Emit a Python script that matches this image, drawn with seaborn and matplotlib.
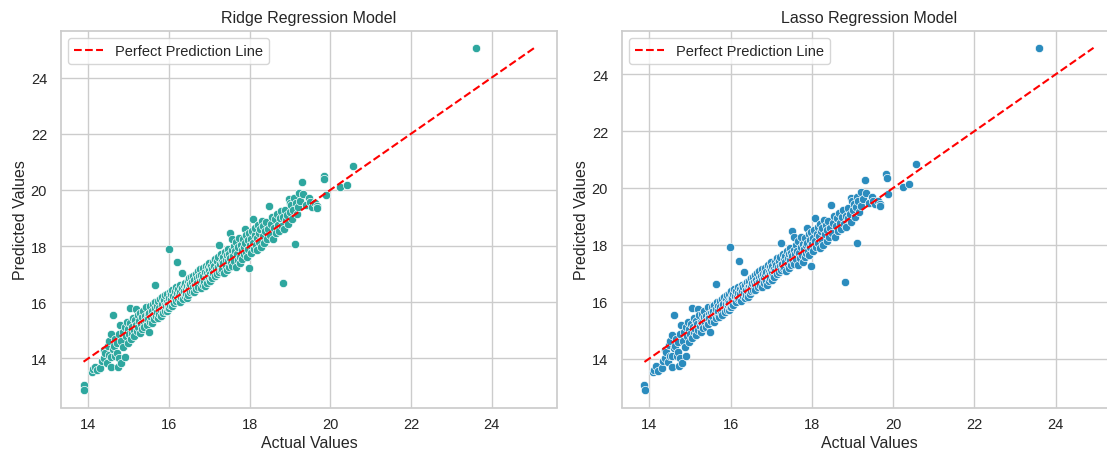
import numpy as np
import pandas as pd
import matplotlib
matplotlib.use("Agg")
import matplotlib.pyplot as plt
import seaborn as sns

# Observed target values of the test set
actual = [
    13.88, 13.90, 14.08, 14.12, 14.17, 14.22, 14.30, 14.33, 14.38, 14.38, 14.42, 14.45, 14.48, 14.50,
    14.52, 14.55, 14.55, 14.57, 14.60, 14.60, 14.63, 14.65, 14.67, 14.70, 14.71, 14.73, 14.75, 14.76,
    14.79, 14.80, 14.82, 14.85, 14.87, 14.90, 14.90, 14.93, 14.95, 14.97, 14.98, 15.00,
    15.02, 15.04, 15.05, 15.07, 15.09, 15.10, 15.12, 15.14, 15.15, 15.17, 15.19, 15.20, 15.22, 15.24,
    15.26, 15.27, 15.29, 15.30, 15.32, 15.34, 15.35, 15.37, 15.39, 15.40, 15.42, 15.44, 15.45, 15.47,
    15.48, 15.50,
    15.51, 15.52, 15.54, 15.55, 15.57, 15.58, 15.60, 15.61, 15.63, 15.64, 15.65, 15.66, 15.68, 15.69,
    15.70, 15.72, 15.73, 15.75, 15.76, 15.78, 15.79, 15.80, 15.82, 15.83, 15.85, 15.86, 15.88, 15.89,
    15.90, 15.91, 15.93, 15.94, 15.95, 15.96, 15.97, 15.98, 15.99, 16.00, 16.00, 16.02,
    16.03, 16.04, 16.06, 16.07, 16.08, 16.10, 16.11, 16.13, 16.14, 16.15, 16.17, 16.18, 16.19, 16.20,
    16.21, 16.23, 16.24, 16.26, 16.27, 16.28, 16.30, 16.31, 16.33, 16.33, 16.35, 16.36, 16.38, 16.39,
    16.40, 16.42, 16.43, 16.44, 16.45, 16.46, 16.47, 16.48, 16.49, 16.50, 16.50, 16.51,
    16.53, 16.54, 16.56, 16.57, 16.59, 16.60, 16.61, 16.63, 16.64, 16.66, 16.67, 16.69, 16.70, 16.71,
    16.73, 16.74, 16.76, 16.77, 16.78, 16.80, 16.81, 16.83, 16.84, 16.85, 16.87, 16.88, 16.89, 16.91,
    16.92, 16.94, 16.95, 16.96, 16.97, 16.98, 17.00, 17.00, 17.01, 17.02, 17.03, 17.04,
    17.06, 17.07, 17.09, 17.10, 17.12, 17.13, 17.15, 17.16, 17.18, 17.19, 17.21, 17.22, 17.24, 17.25,
    17.26, 17.28, 17.29, 17.31, 17.32, 17.34, 17.35, 17.37, 17.38, 17.40, 17.41, 17.43, 17.44, 17.46,
    17.47, 17.48, 17.49, 17.50, 17.52, 17.53, 17.56,
    17.55, 17.57, 17.58, 17.60, 17.62, 17.63, 17.65, 17.67, 17.68, 17.70, 17.72, 17.73, 17.75, 17.77,
    17.78, 17.80, 17.82, 17.83, 17.85, 17.86, 17.88, 17.89, 17.90, 17.92, 17.93, 17.95, 17.96, 17.97,
    17.98, 18.00,
    18.02, 18.03, 18.05, 18.07, 18.08, 18.10, 18.12, 18.14, 18.15, 18.17, 18.19, 18.20, 18.22, 18.24,
    18.26, 18.28, 18.30, 18.32, 18.34, 18.36, 18.38, 18.40, 18.42, 18.45, 18.47,
    18.50, 18.52, 18.55, 18.57, 18.60, 18.62, 18.65, 18.67, 18.70, 18.72, 18.75, 18.77, 18.80, 18.82,
    18.83, 18.85, 18.88, 18.90, 18.93, 18.96,
    18.97, 18.99, 19.00, 19.03, 19.05, 19.08, 19.10, 19.12, 19.14, 19.17, 19.20, 19.22, 19.25, 19.30,
    19.32, 19.40,
    19.48, 19.50, 19.55, 19.62, 19.67, 19.68, 19.83, 19.84, 19.88, 20.23, 20.40, 20.56, 23.60,
]

# Ridge model predictions
ridge_pred = [
    13.06, 12.86, 13.50, 13.62, 13.71, 13.58, 13.65, 13.92, 14.01, 14.31, 14.20, 13.85, 14.45, 14.12,
    14.62, 14.05, 13.71, 14.85, 15.56, 14.35, 14.43, 14.70, 14.07, 14.55, 14.19, 13.70, 14.01, 14.88,
    15.20, 13.84, 14.62, 14.95, 14.40, 14.05, 15.12, 14.78, 15.30, 14.55, 15.05, 14.85,
    15.25, 15.80, 14.70, 15.10, 14.92, 15.45, 15.02, 14.80, 15.35, 15.18, 15.77, 14.98, 15.55, 15.12,
    15.32, 14.90, 15.60, 15.22, 15.05, 15.48, 15.70, 15.28, 15.10, 15.52, 15.35, 15.82, 15.20, 15.58,
    15.40, 14.93,
    15.62, 15.30, 15.85, 15.48, 15.70, 15.25, 15.92, 15.55, 15.40, 16.63, 15.78, 16.02, 15.50, 15.88,
    15.65, 15.42, 16.05, 15.80, 15.58, 16.12, 15.72, 15.50, 15.95, 16.20, 15.75, 15.60, 16.08, 15.90,
    15.68, 16.25, 15.85, 16.02, 15.70, 16.30, 15.95, 15.80, 17.90, 16.15, 15.78, 16.38,
    15.90, 16.10, 16.28, 15.85, 16.45, 16.02, 16.22, 15.98, 16.40, 16.15, 16.55, 16.05, 16.32, 17.43,
    16.12, 16.48, 16.25, 16.00, 16.60, 16.35, 16.18, 16.52, 17.05, 16.28, 16.10, 16.62, 16.40, 16.22,
    16.70, 16.48, 16.30, 16.15, 16.58, 16.75, 16.42, 16.25, 16.62, 16.48, 16.85, 16.35,
    16.65, 16.90, 16.40, 16.72, 16.55, 16.95, 16.38, 16.80, 16.62, 17.02, 16.48, 16.85, 16.68, 17.10,
    16.55, 16.92, 16.75, 17.18, 16.50, 16.98, 16.80, 16.62, 17.22, 16.95, 16.72, 17.08, 16.58, 17.30,
    16.88, 17.05, 16.70, 17.25, 16.95, 16.82, 17.15, 17.40, 16.75, 17.00, 17.28, 16.90,
    17.18, 16.85, 17.42, 17.05, 17.30, 16.95, 17.55, 17.20, 17.02, 17.45, 17.25, 17.60, 17.08, 18.04,
    17.35, 17.15, 17.70, 17.48, 17.20, 17.62, 17.38, 17.05, 17.80, 17.52, 17.30, 17.68, 17.15, 17.90,
    17.45, 17.25, 17.72, 17.58, 18.48, 17.40, 18.24,
    17.85, 17.30, 17.65, 18.00, 17.48, 17.82, 17.25, 18.15, 17.70, 17.52, 17.95, 18.30, 17.62, 17.38,
    18.05, 17.85, 17.55, 18.25, 17.98, 17.70, 18.62, 18.10, 17.78, 18.40, 17.60, 18.20, 17.90, 17.23,
    18.48, 18.02,
    18.25, 17.75, 18.55, 18.10, 18.97, 17.90, 18.40, 18.65, 18.05, 18.30, 17.85, 18.75, 18.45, 18.15,
    18.60, 17.98, 18.90, 18.35, 18.70, 18.12, 18.55, 18.85, 18.25, 18.62, 19.43,
    18.40, 18.80, 19.05, 18.25, 18.65, 18.95, 18.48, 19.15, 18.75, 18.55, 19.00, 19.25, 18.70, 16.69,
    19.05, 18.60, 19.30, 18.92, 19.10, 18.80,
    19.67, 19.55, 19.20, 19.45, 18.95, 19.30, 19.72, 18.08, 19.55, 19.15, 19.38, 19.88, 19.62, 20.29,
    19.85, 19.45,
    19.70, 19.57, 19.40, 19.55, 19.43, 19.34, 20.50, 20.38, 19.81, 20.09, 20.17, 20.86, 25.06,
]

# Lasso model predictions
lasso_pred = [
    13.08, 12.88, 13.52, 13.60, 13.74, 13.57, 13.68, 13.90, 14.03, 14.30, 14.22, 13.88, 14.47, 14.10,
    14.60, 14.08, 13.70, 14.83, 15.54, 14.38, 14.45, 14.68, 14.10, 14.57, 14.22, 13.72, 14.03, 14.85,
    15.18, 13.86, 14.60, 14.93, 14.42, 14.08, 15.10, 14.80, 15.28, 14.58, 15.03, 14.87,
    15.23, 15.78, 14.72, 15.12, 14.95, 15.43, 15.04, 14.82, 15.33, 15.20, 15.75, 15.00, 15.53, 15.14,
    15.30, 14.93, 15.58, 15.24, 15.07, 15.46, 15.68, 15.30, 15.12, 15.50, 15.37, 15.80, 15.22, 15.56,
    15.42, 14.95,
    15.60, 15.32, 15.83, 15.50, 15.68, 15.28, 15.90, 15.57, 15.42, 16.61, 15.76, 16.00, 15.52, 15.86,
    15.67, 15.45, 16.03, 15.82, 15.60, 16.10, 15.74, 15.53, 15.93, 16.18, 15.77, 15.62, 16.06, 15.92,
    15.70, 16.23, 15.87, 16.00, 15.72, 16.28, 15.97, 15.82, 17.94, 16.13, 15.80, 16.36,
    15.92, 16.12, 16.26, 15.88, 16.43, 16.04, 16.20, 16.00, 16.38, 16.17, 16.53, 16.08, 16.30, 17.42,
    16.14, 16.46, 16.27, 16.03, 16.58, 16.37, 16.20, 16.50, 17.03, 16.30, 16.12, 16.60, 16.42, 16.24,
    16.68, 16.50, 16.32, 16.18, 16.56, 16.73, 16.44, 16.28, 16.60, 16.50, 16.83, 16.37,
    16.67, 16.88, 16.42, 16.70, 16.57, 16.93, 16.40, 16.78, 16.64, 17.00, 16.50, 16.83, 16.70, 17.08,
    16.57, 16.90, 16.77, 17.16, 16.53, 16.96, 16.82, 16.64, 17.20, 16.97, 16.74, 17.06, 16.60, 17.28,
    16.90, 17.03, 16.72, 17.23, 16.97, 16.84, 17.13, 17.38, 16.78, 17.02, 17.26, 16.92,
    17.16, 16.88, 17.40, 17.07, 17.28, 16.98, 17.53, 17.22, 17.04, 17.43, 17.27, 17.58, 17.10, 18.06,
    17.33, 17.18, 17.68, 17.50, 17.22, 17.60, 17.40, 17.08, 17.78, 17.54, 17.32, 17.66, 17.18, 17.88,
    17.47, 17.28, 17.70, 17.60, 18.50, 17.42, 18.26,
    17.83, 17.33, 17.67, 17.98, 17.50, 17.80, 17.28, 18.13, 17.72, 17.55, 17.93, 18.28, 17.64, 17.40,
    18.03, 17.87, 17.57, 18.23, 18.00, 17.72, 18.60, 18.08, 17.80, 18.38, 17.63, 18.18, 17.92, 17.25,
    18.46, 18.04,
    18.23, 17.78, 18.53, 18.12, 18.95, 17.93, 18.38, 18.63, 18.08, 18.32, 17.88, 18.73, 18.47, 18.17,
    18.58, 18.00, 18.88, 18.37, 18.68, 18.15, 18.53, 18.83, 18.27, 18.60, 19.40,
    18.42, 18.78, 19.03, 18.28, 18.67, 18.93, 18.50, 19.13, 18.77, 18.57, 18.98, 19.23, 18.72, 16.68,
    19.03, 18.62, 19.28, 18.94, 19.08, 18.82,
    19.65, 19.53, 19.22, 19.43, 18.98, 19.32, 19.70, 18.05, 19.53, 19.17, 19.36, 19.86, 19.60, 20.27,
    19.83, 19.47,
    19.68, 19.55, 19.42, 19.53, 19.45, 19.36, 20.48, 20.36, 19.79, 20.05, 20.14, 20.84, 24.93,
]

model_titles = ["Ridge Regression Model", "Lasso Regression Model"]
point_colors = ["#2ea79f", "#2b8cbe"]

sns.set_theme(style="whitegrid")
plt.rcParams["font.family"] = ["Liberation Sans", "DejaVu Sans"]
plt.rcParams.update({
    "xtick.labelsize": 10.5,
    "ytick.labelsize": 10.5,
    "axes.labelsize": 11.5,
    "axes.titlesize": 11.5,
    "legend.fontsize": 10.5,
    "xtick.major.size": 0,
    "ytick.major.size": 0,
    "xtick.major.pad": 7,
    "ytick.major.pad": 10,
})

df = pd.DataFrame({"actual": actual, "ridge": ridge_pred, "lasso": lasso_pred})

W, H = 1107, 452
fig = plt.figure(figsize=(W / 100, H / 100), dpi=100)
ax_left = fig.add_axes([61 / W, (H - 408.5) / H, 496 / W, (408.5 - 31.7) / H])
ax_right = fig.add_axes([622 / W, (H - 408.5) / H, 494 / W, (408.5 - 31.7) / H])

for ax, col, title, color in zip([ax_left, ax_right], ["ridge", "lasso"], model_titles, point_colors):
    sns.scatterplot(data=df, x="actual", y=col, color=color, ax=ax)
    lo = df["actual"].min()
    hi = df[col].max()
    ax.plot([lo, hi], [lo, hi], "--", color="red", lw=1.5, label="Perfect Prediction Line")
    ax.set_title(title, pad=6)
    ax.set_xlabel("Actual Values", labelpad=3)
    ax.set_ylabel("Predicted Values", labelpad=2)
    ax.legend(loc="upper left")

fig.savefig("out.png", dpi=100)
